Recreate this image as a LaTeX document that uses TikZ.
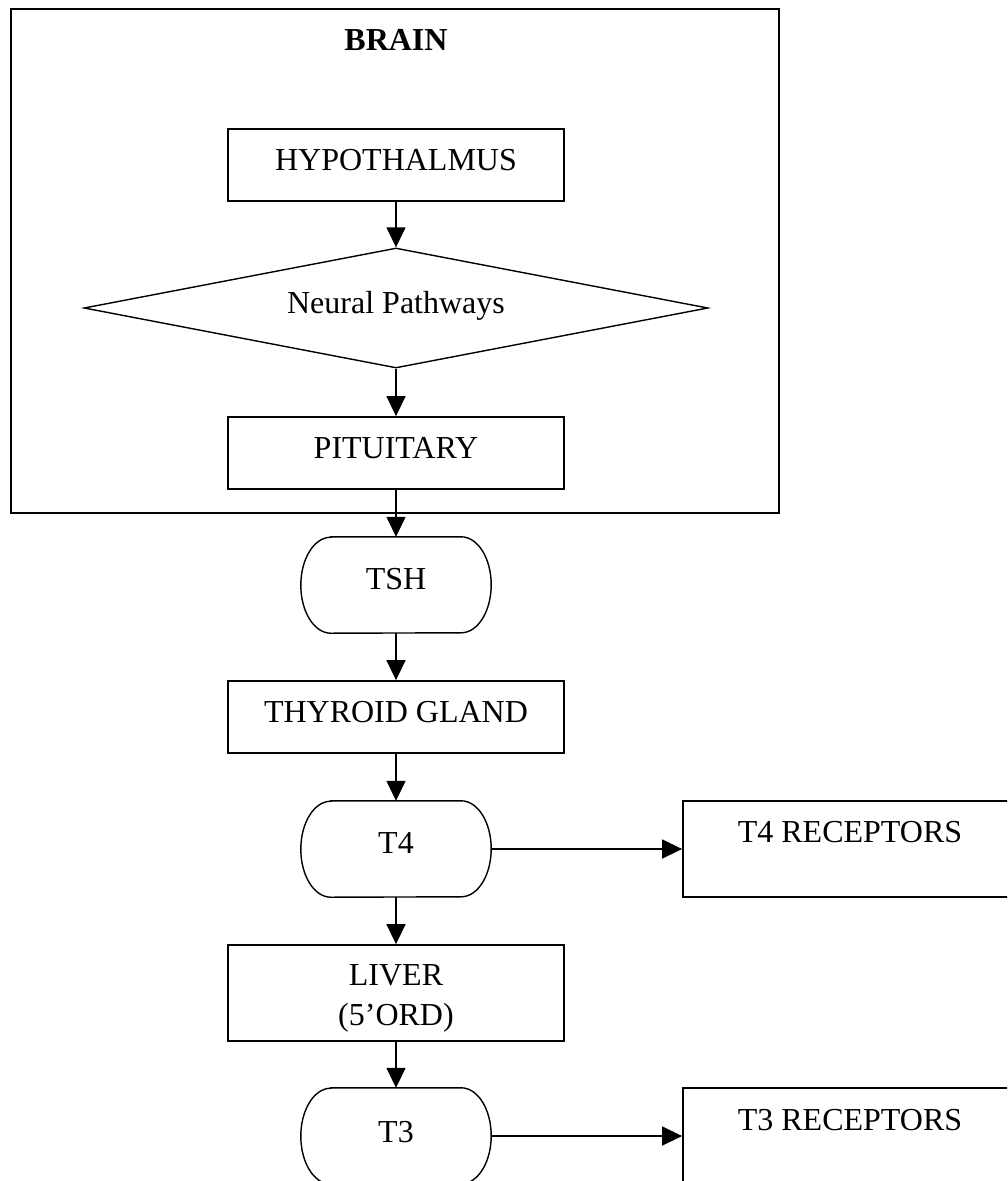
\documentclass[tikz,border=0pt]{standalone}
\usepackage{fontspec}
\setmainfont{Liberation Serif}
\usetikzlibrary{arrows.meta,shapes.geometric}
\tikzset{
  boxnode/.style={draw, rectangle, line width=1.8pt, inner sep=0pt, minimum width=336pt, minimum height=72pt},
  recbox/.style={draw, rectangle, line width=1.8pt, inner sep=0pt, minimum width=334pt, minimum height=96pt},
  stadnode/.style={rectangle, inner sep=0pt, minimum width=190pt, minimum height=96pt},
  lbl/.style={anchor=base, inner sep=0pt, font=\fontsize{32}{38}\selectfont},
  flow/.style={line width=1.5pt, -{Triangle[length=20pt,width=19pt]}}
}
\newcommand{\drawstadium}[1]{%
  \draw[line width=1.4pt] ([xshift=30pt]#1.north west) -- ([xshift=-30pt]#1.north east)
    arc[start angle=90,end angle=-90,x radius=30pt,y radius=48pt]
    -- ([xshift=30pt]#1.south west)
    arc[start angle=270,end angle=90,x radius=30pt,y radius=48pt] -- cycle;}
\begin{document}
\begin{tikzpicture}[x=1pt,y=1pt]
\clip (0,0) rectangle (1007,-1181);
\fill[white] (0,0) rectangle (1007,-1181);
% brain frame
\node[draw, rectangle, line width=2.2pt, inner sep=0pt, minimum width=768pt, minimum height=504pt] (brain) at (395,-261) {};
\node[lbl, font=\fontsize{32}{38}\selectfont\bfseries] (brainlbl) at (396,-50) {BRAIN};
% shapes
\node[boxnode] (hyp) at (396,-165) {};
\node[lbl] (hyplbl) at (396,-170) {HYPOTHALMUS};
\node[draw, diamond, line width=1.4pt, inner sep=0pt, minimum width=624pt, minimum height=120pt] (neur) at (396,-308) {};
\node[lbl] (neurlbl) at (396,-313) {Neural Pathways};
\node[boxnode] (pit) at (396,-453) {};
\node[lbl] (pitlbl) at (396,-458) {PITUITARY};
\node[stadnode] (tsh) at (396,-585) {};
\drawstadium{tsh}
\node[lbl] (tshlbl) at (396,-589) {TSH};
\node[boxnode] (thy) at (396,-717) {};
\node[lbl] (thylbl) at (396,-722) {THYROID GLAND};
\node[stadnode] (t4) at (396,-849) {};
\drawstadium{t4}
\node[lbl] (t4lbl) at (396,-853) {T4};
\node[recbox] (t4r) at (850,-849) {};
\node[lbl] (t4rlbl) at (850,-842) {T4 RECEPTORS};
\node[boxnode, minimum height=96pt] (liv) at (396,-993) {};
\node[lbl] (livlbl1) at (396,-985) {LIVER};
\node[lbl] (livlbl2) at (396,-1025) {(5’ORD)};
\node[stadnode] (t3) at (396,-1136) {};
\drawstadium{t3}
\node[lbl] (t3lbl) at (396,-1142) {T3};
\node[recbox] (t3r) at (850,-1136) {};
\node[lbl] (t3rlbl) at (850,-1130) {T3 RECEPTORS};
% connectors
\draw[flow] (hyp.south) -- (neur.north);
\draw[flow] (neur.south) -- (pit.north);
\draw[flow] (pit.south) -- (tsh.north);
\draw[flow] (tsh.south) -- (thy.north);
\draw[flow] (thy.south) -- (t4.north);
\draw[flow] (t4.east) -- (t4r.west);
\draw[flow] (t4.south) -- (liv.north);
\draw[flow] (liv.south) -- (t3.north);
\draw[flow] (t3.east) -- (t3r.west);
\end{tikzpicture}
\end{document}
